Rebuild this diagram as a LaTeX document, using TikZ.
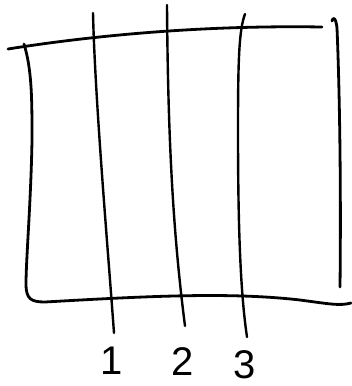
\documentclass[tikz,border=0pt]{standalone}
\usepackage{fontspec}
\setmainfont{Liberation Sans}
\usetikzlibrary{positioning}

\begin{document}
\begin{tikzpicture}[
    x=1pt, y=-1pt,
    stroke/.style={line width=2.8pt, line cap=round, line join=round},
    divider/.style={line width=2.4pt, line cap=round},
    numlabel/.style={font=\fontsize{40}{40}\selectfont, inner sep=0pt, anchor=north}
]
\useasboundingbox (0,0) rectangle (352,386);

% Rahmen
\draw[stroke] (8,49) .. controls (90,36) and (200,25) .. (322,27);
\draw[stroke] (24,44) .. controls (32,70) and (32,100) .. (32,140)
    .. controls (31,200) and (26,260) .. (26,284)
    .. controls (26,299) and (31,302) .. (45,302)
    .. controls (150,296) and (230,292) .. (300,300)
    .. controls (330,304) and (340,306) .. (351,303);
\draw[stroke] (332,21) .. controls (333,16) and (336,18) .. (337,28)
    .. controls (340,100) and (341,200) .. (340,287);

% Trennlinien
\coordinate (foot1) at (114,333);
\coordinate (foot2) at (185,326);
\coordinate (foot3) at (247,337);
\draw[divider] (93,13) .. controls (95,100) and (108,250) .. (foot1);
\draw[divider] (167,5) .. controls (168,150) and (174,240) .. (foot2);
\draw[divider] (245,14) .. controls (239,30) and (238,60) .. (238,130)
    .. controls (238,220) and (240,290) .. (foot3);

% Nummern
\node[numlabel, below=14pt of foot1, xshift=-2pt] (lbl1) {1};
\node[numlabel, below=21pt of foot2, xshift=-2pt] (lbl2) {2};
\node[numlabel, below=13pt of foot3, xshift=-2pt] (lbl3) {3};

\end{tikzpicture}
\end{document}
